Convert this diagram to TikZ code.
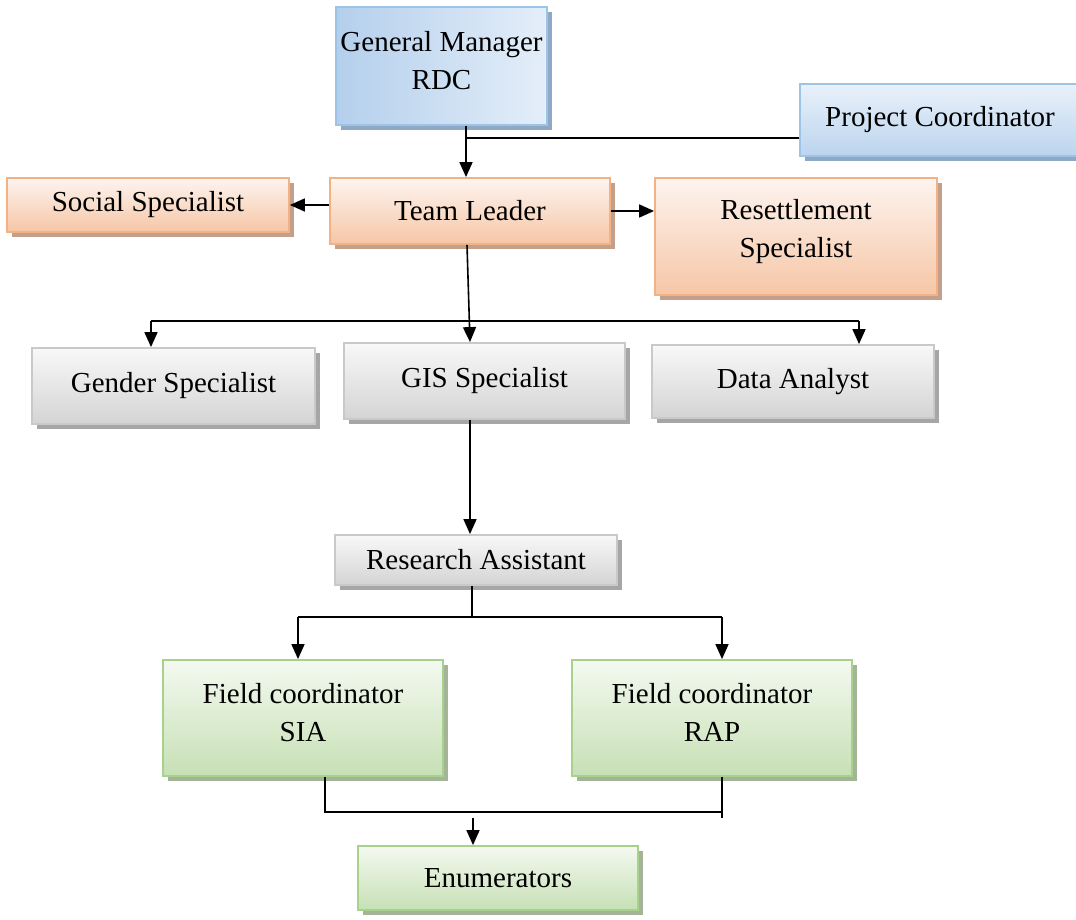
\documentclass[tikz,border=0pt]{standalone}
\usepackage{fontspec}
\setmainfont{Liberation Serif}
\usetikzlibrary{shadows,arrows.meta,calc}
\definecolor{bluetop}{HTML}{E9F1FA}
\definecolor{bluebot}{HTML}{BCD4EE}
\definecolor{blueleft}{HTML}{B4CFEC}
\definecolor{blueright}{HTML}{E4EEF9}
\definecolor{blueedge}{HTML}{9DC3E6}
\definecolor{blueshadow}{HTML}{8FA8C5}
\definecolor{orgtop}{HTML}{FDF4EF}
\definecolor{orgbot}{HTML}{F6C6A6}
\definecolor{orgedge}{HTML}{F4B183}
\definecolor{orgshadow}{HTML}{C3A08B}
\definecolor{graytop}{HTML}{F8F8F8}
\definecolor{graybot}{HTML}{D4D4D4}
\definecolor{grayedge}{HTML}{C9C9C9}
\definecolor{grayshadow}{HTML}{A6A6A6}
\definecolor{grntop}{HTML}{F4F9F0}
\definecolor{grnbot}{HTML}{C6E0B5}
\definecolor{grnedge}{HTML}{A9D18E}
\definecolor{grnshadow}{HTML}{A3B596}
\begin{document}
\begin{tikzpicture}[x=1pt,y=-1pt,
  box/.style={rectangle, inner sep=0pt, line width=1.8pt, align=center,
    font=\fontsize{29}{38}\selectfont, text=black},
  bluebox/.style={box, draw=blueedge, top color=bluetop, bottom color=bluebot,
    drop shadow={shadow xshift=5pt,shadow yshift=-5pt,fill=blueshadow,opacity=1}},
  gmbox/.style={box, draw=blueedge, left color=blueleft, right color=blueright,
    drop shadow={shadow xshift=5pt,shadow yshift=-5pt,fill=blueshadow,opacity=1}},
  orgbox/.style={box, draw=orgedge, top color=orgtop, bottom color=orgbot,
    drop shadow={shadow xshift=5pt,shadow yshift=-5pt,fill=orgshadow,opacity=1}},
  graybox/.style={box, draw=grayedge, top color=graytop, bottom color=graybot,
    drop shadow={shadow xshift=5pt,shadow yshift=-5pt,fill=grayshadow,opacity=1}},
  grnbox/.style={box, draw=grnedge, top color=grntop, bottom color=grnbot,
    drop shadow={shadow xshift=5pt,shadow yshift=-5pt,fill=grnshadow,opacity=1}},
  conn/.style={line width=1.6pt, draw=black},
  arr/.style={conn, -{Triangle[length=15pt,width=13pt]}}]
\useasboundingbox (0,0) rectangle (1076,920);

% nodes
\node[gmbox, minimum width=211pt, minimum height=118pt] (GM) at (441.5,66) {General Manager\\RDC\\[-26pt]};
\node[bluebox, minimum width=280pt, minimum height=72pt] (PC) at (940,120) {Project Coordinator};
\node[orgbox, minimum width=280pt, minimum height=66pt] (TL) at (470,211) {Team Leader};
\node[orgbox, minimum width=282pt, minimum height=54pt] (SS) at (148,205) {Social Specialist};
\node[orgbox, minimum width=282pt, minimum height=117pt] (RS) at (796,236.5) {Resettlement\\Specialist\\[-21pt]};
\node[graybox, minimum width=283pt, minimum height=76pt] (GS) at (173.5,386) {Gender Specialist};
\node[graybox, minimum width=281pt, minimum height=76pt] (GIS) at (484.5,381) {GIS Specialist};
\node[graybox, minimum width=282pt, minimum height=73pt] (DA) at (793,381.5) {Data Analyst};
\node[graybox, minimum width=282pt, minimum height=50pt] (RA) at (476,560) {Research Assistant};
\node[grnbox, minimum width=280pt, minimum height=116pt] (FS) at (303,718) {Field coordinator\\SIA\\[-27pt]};
\node[grnbox, minimum width=280pt, minimum height=116pt] (FR) at (712,718) {Field coordinator\\RAP\\[-27pt]};
\node[grnbox, minimum width=280pt, minimum height=64pt] (EN) at (498,878) {Enumerators};

% connectors
\coordinate (j1) at ([xshift=24.5pt]GM.south |- 0,138);
\draw[arr] ([xshift=24.5pt]GM.south) -- ([xshift=24.5pt]GM.south |- TL.north);
\draw[conn] ([yshift=-18pt]PC.west) -- (j1);
\draw[arr] ([yshift=6pt]TL.west) -- (SS.east);
\draw[arr] (TL.east) -- (TL.east -| RS.west);
\draw[arr] ([xshift=-3pt]TL.south) -- ([xshift=-14.5pt]GIS.north);
\coordinate (hl) at (151,321);
\coordinate (hr) at (859,321);
\draw[conn] (hl) -- (hr);
\draw[arr] (hl) -- (hl |- GS.north);
\draw[arr] (hr) -- (hr |- DA.north);
\draw[arr] ([xshift=-14.5pt]GIS.south) -- ([xshift=-14.5pt]GIS.south |- RA.north);
\coordinate (r1) at ([xshift=-4pt]RA.south |- 0,617);
\coordinate (rl) at (298,617);
\coordinate (rr) at (722,617);
\draw[conn] ([xshift=-4pt]RA.south) -- (r1);
\draw[conn] (rl) -- (rr);
\draw[arr] (rl) -- (rl |- FS.north);
\draw[arr] (rr) -- (rr |- FR.north);
\coordinate (fl) at ([xshift=22pt]FS.south |- 0,812);
\coordinate (fr) at (722,812);
\draw[conn] ([xshift=22pt]FS.south) -- (fl) -- (fr);
\draw[conn] ([xshift=10pt]FR.south) -- ([xshift=10pt]FR.south |- 0,818);
\coordinate (ea) at ([xshift=-25pt]EN.north |- 0,818);
\draw[arr] (ea) -- ([xshift=-25pt]EN.north);
\end{tikzpicture}
\end{document}
